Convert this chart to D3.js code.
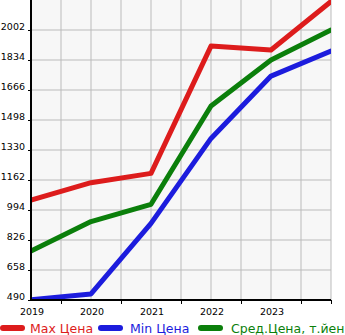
<!DOCTYPE html>
<html><head><meta charset="utf-8">
<script src="https://cdn.jsdelivr.net/npm/d3@7"></script>
<style>body{margin:0;background:#fff}svg{display:block}</style>
</head><body>
<script>
const years = [2019, 2020, 2021, 2022, 2023, 2024];
const maxPrice = [1050, 1147, 1199, 1912, 1890, 2162];
const minPrice = [492, 524, 919, 1395, 1744, 1884];
const avgPrice = [764, 929, 1026, 1576, 1834, 2002];
const yTicks = [490, 658, 826, 994, 1162, 1330, 1498, 1666, 1834, 2002];
const xLabels = [2019, 2020, 2021, 2022, 2023];
const seriesNames = ["Max Цена", "Min Цена", "Сред.Цена, т.йен"];
const colors = ["#dd1c1c", "#1c1cdd", "#0b7f0b"];

const W = 345, H = 335;
const m = {l: 31, r: 14, t: 0, b: 35};
const svg = d3.select("body").append("svg").attr("width", W).attr("height", H);
const x = d3.scaleLinear().domain([2019, 2024]).range([m.l, W - m.r]);
const y = d3.scaleLinear().domain([490, 2170]).range([H - m.b, m.t]);

svg.append("rect").attr("x", m.l).attr("y", m.t).attr("width", W - m.r - m.l).attr("height", H - m.b - m.t).attr("fill", "#f7f7f7");

const gridX = d3.range(2019, 2024.01, 0.5);
svg.append("g").selectAll("line").data(gridX).join("line")
  .attr("x1", d => x(d)).attr("x2", d => x(d)).attr("y1", m.t).attr("y2", H - m.b)
  .attr("stroke", "#bbbbbb").attr("stroke-width", 1);
svg.append("g").selectAll("line").data(yTicks).join("line")
  .attr("x1", m.l).attr("x2", W - m.r).attr("y1", d => y(d)).attr("y2", d => y(d))
  .attr("stroke", "#bbbbbb").attr("stroke-width", 1);

const clip = svg.append("clipPath").attr("id", "c").append("rect")
  .attr("x", m.l).attr("y", m.t).attr("width", W - m.r - m.l).attr("height", H - m.b - m.t);

const line = d3.line().x((d, i) => x(years[i])).y(d => y(d));
[maxPrice, minPrice, avgPrice].forEach((s, k) => {
  svg.append("path").datum(s).attr("d", line).attr("fill", "none")
    .attr("stroke", colors[k]).attr("stroke-width", 5).attr("stroke-linejoin", "round")
    .attr("stroke-linecap", "round").attr("clip-path", "url(#c)");
});

// axes
const yAxis = d3.axisLeft(y).tickValues(yTicks).tickSize(3).tickFormat(d3.format("d"));
const gy = svg.append("g").attr("transform", `translate(${m.l},0)`).call(yAxis);
gy.select(".domain").remove();
gy.selectAll(".tick line").attr("stroke", "#000");
gy.selectAll(".tick text").attr("x", -6).attr("dy", "-0.1em").attr("fill", "#000")
  .style("font-family", "DejaVu Sans").style("font-size", "9.5px");

const xAxis = d3.axisBottom(x).tickValues(d3.range(2019.5, 2024.01, 0.5).filter(d => d % 1 !== 0).concat([2024])).tickSize(4).tickFormat("");
const gx = svg.append("g").attr("transform", `translate(0,${H - m.b})`).call(xAxis);
gx.select(".domain").remove();
gx.selectAll(".tick line").attr("stroke", "#000");
svg.append("g").selectAll("text").data(xLabels).join("text")
  .attr("x", d => x(d) + 1).attr("y", H - m.b + 15).attr("text-anchor", "middle")
  .style("font-family", "DejaVu Sans").style("font-size", "9.5px").attr("fill", "#000").text(d => d);

svg.append("line").attr("x1", m.l).attr("x2", m.l).attr("y1", m.t).attr("y2", H - m.b + 1).attr("stroke", "#000").attr("stroke-width", 2);
svg.append("line").attr("x1", m.l - 1).attr("x2", W - m.r).attr("y1", H - m.b).attr("y2", H - m.b).attr("stroke", "#000").attr("stroke-width", 2);

// legend
const legX = [3, 101, 201];
const legTextX = [30, 130, 231];
const lg = svg.append("g");
seriesNames.forEach((n, k) => {
  lg.append("line").attr("x1", legX[k]).attr("x2", legX[k] + 19).attr("y1", 328).attr("y2", 328)
    .attr("stroke", colors[k]).attr("stroke-width", 6).attr("stroke-linecap", "round");
  lg.append("text").attr("x", legTextX[k]).attr("y", 333).attr("fill", colors[k])
    .style("font-family", "DejaVu Sans").style("font-size", "12.5px").text(n);
});
</script>
</body></html>
